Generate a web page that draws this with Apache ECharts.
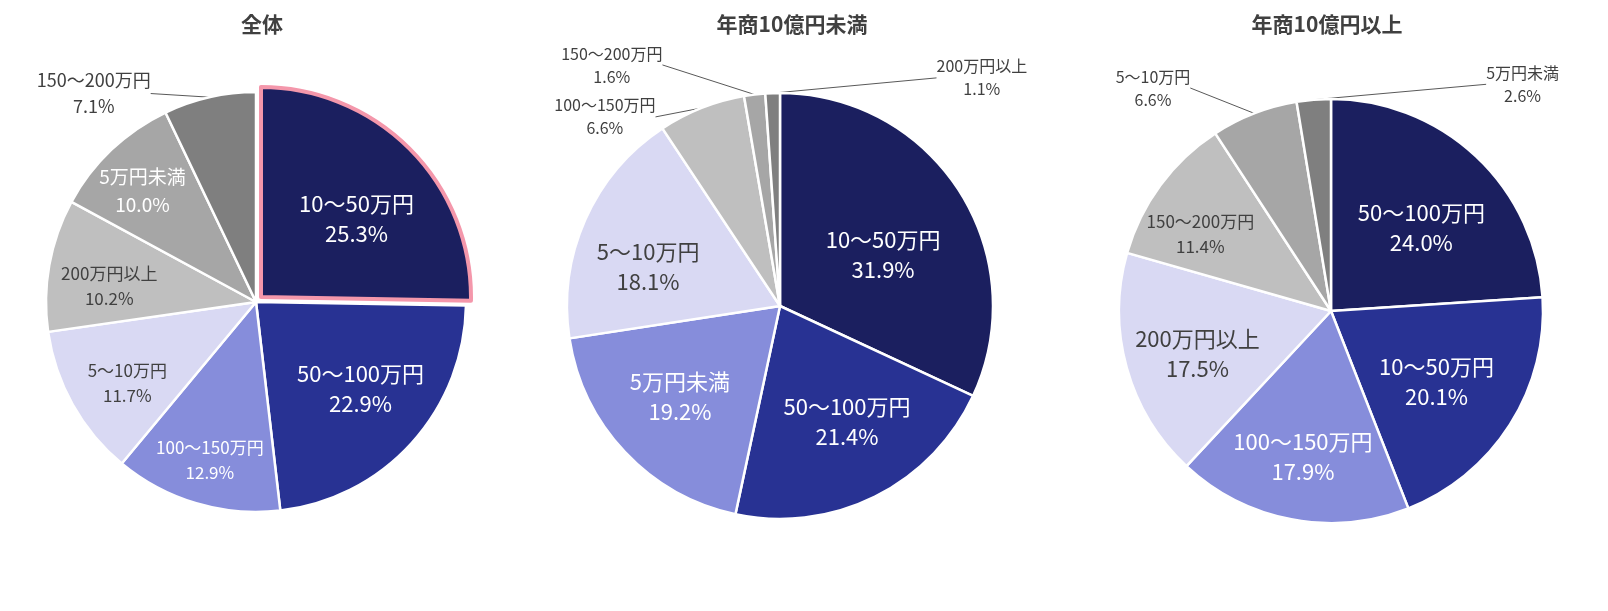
<!DOCTYPE html>
<html><head><meta charset="utf-8">
<script src="https://cdn.jsdelivr.net/npm/echarts@6/dist/echarts.min.js"></script>
<style>html,body{margin:0;padding:0;background:#fff}#c{width:1608px;height:611px}</style>
</head><body><div id="c"></div>
<script>
// ---- data ----
const titles = ['全体', '年商10億円未満', '年商10億円以上'];
const names1 = ['10～50万円','50～100万円','100～150万円','5～10万円','200万円以上','5万円未満','150～200万円'];
const values1 = [25.3, 22.9, 12.9, 11.7, 10.2, 10.0, 7.1];
const names2 = ['10～50万円','50～100万円','5万円未満','5～10万円','100～150万円','150～200万円','200万円以上'];
const values2 = [31.9, 21.4, 19.2, 18.1, 6.6, 1.6, 1.1];
const names3 = ['50～100万円','10～50万円','100～150万円','200万円以上','150～200万円','5～10万円','5万円未満'];
const values3 = [24.0, 20.1, 17.9, 17.5, 11.4, 6.6, 2.6];

// ---- styles / layout ----
const FONT = '"Noto Sans CJK JP", "Noto Sans", sans-serif';
const rankColors = ['#1b1f5f','#283293','#868ddb','#d9d9f3','#bfbfbf','#a6a6a6','#7f7f7f'];
const rankLabelColors = ['#ffffff','#ffffff','#ffffff','#404040','#404040','#ffffff','#404040'];
const pies = [
  {names: names1, values: values1, center: [256, 302], r: 210, titleX: 257, explode: {index: 0, offset: 7}},
  {names: names2, values: values2, center: [780, 306], r: 213, titleX: 787, explode: null},
  {names: names3, values: values3, center: [1331, 311], r: 212, titleX: 1322, explode: null}
];
const labelSizes = [[22,22,17,17,17,19,18],[22,22,22,22,16,16,16],[22,22,22,22,17,16,16]];
// label placement: [angle from 12 o'clock (deg, clockwise), distance in radii]; > 1 = outside with leader line
const labelPolar = [
  [[50.3,0.622],[129.6,0.646],[196.3,0.783],[237.7,0.725],[276.3,0.703],[314.5,0.758],[322.1,1.258]],
  [[63.7,0.540],[150.0,0.629],[227.7,0.635],[286.5,0.646],[317.2,1.21],[325.1,1.38],[41.5,1.43]],
  [[47.3,0.580],[123.7,0.598],[190.9,0.700],[252.1,0.662],[300.6,0.716],[321.4,1.346],[40.2,1.40]]
];
const PINK = '#f497ab';

const chart = echarts.init(document.getElementById('c'), null, {renderer: 'canvas'});

function makeItem(P, i, j, visible) {
  const n = P.names[j];
  if (!visible) {
    return {name: n, value: P.values[j], itemStyle: {color: 'rgba(0,0,0,0)', borderWidth: 0},
            label: {show: false}, labelLine: {show: false}};
  }
  const outside = labelPolar[i][j][1] > 1;
  const fs = labelSizes[i][j];
  const exploded = P.explode && P.explode.index === j;
  return {
    name: n,
    value: P.values[j],
    itemStyle: exploded ? {color: rankColors[j], borderColor: PINK, borderWidth: 4}
                        : {color: rankColors[j]},
    label: {
      show: true,
      position: outside ? 'outside' : 'inside',
      formatter: p => '{t|' + p.name + '}\n{t|' + p.value.toFixed(1) + '%}',
      rich: {t: {align: 'center', fontSize: fs, lineHeight: fs >= 22 ? 30 : Math.round(fs * 1.45),
                 color: outside ? '#404040' : rankLabelColors[j], fontFamily: FONT}}
    },
    labelLine: {show: outside, length: 5, length2: 0, lineStyle: {color: '#595959', width: 1}}
  };
}

function makeSeries(P, i, center, isVisible) {
  return {
    type: 'pie',
    center: center,
    radius: P.r,
    startAngle: 90,
    clockwise: true,
    avoidLabelOverlap: false,
    animation: false,
    silent: true,
    emphasis: {disabled: true},
    itemStyle: {borderColor: '#ffffff', borderWidth: 2.5},
    data: P.names.map((n, j) => makeItem(P, i, j, isVisible(j))),
    labelLayout: function (p) {
      const cx = P.center[0], cy = P.center[1];
      const lp = labelPolar[i][p.dataIndex];
      const a = lp[0] * Math.PI / 180, d = lp[1] * P.r;
      return {x: cx + d * Math.sin(a), y: cy - d * Math.cos(a), align: 'center', verticalAlign: 'middle'};
    }
  };
}

const series = [];
pies.forEach((P, i) => {
  if (!P.explode) {
    series.push(makeSeries(P, i, P.center, () => true));
    return;
  }
  const e = P.explode.index;
  series.push(makeSeries(P, i, P.center, j => j !== e));
  // exploded slice: same data, pulled out along its mid-angle
  const total = P.values.reduce((s, v) => s + v, 0);
  const before = P.values.slice(0, e).reduce((s, v) => s + v, 0);
  const mid = (before + P.values[e] / 2) / total * 2 * Math.PI;
  const c2 = [P.center[0] + P.explode.offset * Math.sin(mid), P.center[1] - P.explode.offset * Math.cos(mid)];
  series.push(makeSeries(P, i, c2, j => j === e));
});

chart.setOption({
  animation: false,
  backgroundColor: '#ffffff',
  textStyle: {fontFamily: FONT},
  title: pies.map((P, i) => ({
    text: titles[i], left: P.titleX, top: 9, textAlign: 'center',
    textStyle: {fontSize: 21, fontWeight: 'bold', color: '#404040', fontFamily: FONT}
  })),
  series: series
});
</script>
</body></html>
